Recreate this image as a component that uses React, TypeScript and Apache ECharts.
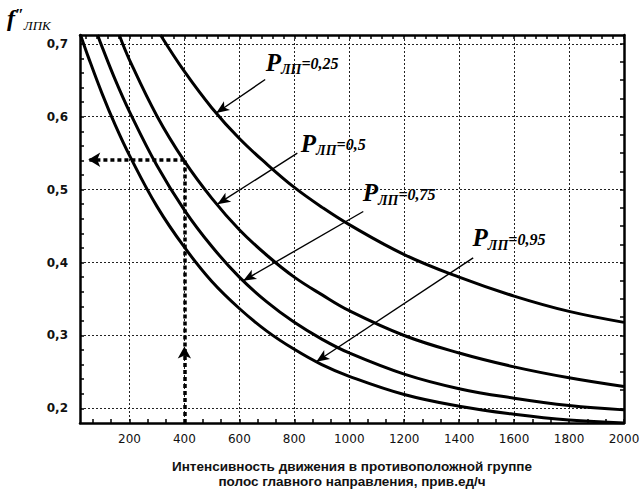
import { useEffect, useRef } from "react";
import * as echarts from "echarts";

// ---- data ----
const curve025X = [313, 400, 500, 600, 700, 800, 900, 1000, 1200, 1400, 1600, 1800, 2000];
const curve025Y = [0.712, 0.662, 0.612, 0.570, 0.535, 0.503, 0.476, 0.452, 0.411, 0.380, 0.354, 0.333, 0.318];

const curve05X = [163, 200, 300, 400, 500, 600, 700, 800, 900, 1000, 1200, 1400, 1600, 1800, 2000];
const curve05Y = [0.712, 0.678, 0.601, 0.539, 0.488, 0.445, 0.410, 0.380, 0.356, 0.334, 0.300, 0.276, 0.257, 0.242, 0.230];

const curve075X = [84, 100, 150, 200, 300, 400, 500, 600, 700, 800, 900, 1000, 1200, 1400, 1600, 1800, 2000];
const curve075Y = [0.712, 0.696, 0.649, 0.607, 0.533, 0.472, 0.422, 0.380, 0.346, 0.318, 0.295, 0.276, 0.247, 0.227, 0.214, 0.204, 0.198];

const curve095X = [22, 50, 100, 150, 200, 300, 400, 500, 600, 700, 800, 900, 1000, 1200, 1400, 1600, 1800, 2000];
const curve095Y = [0.712, 0.682, 0.632, 0.587, 0.547, 0.477, 0.421, 0.374, 0.337, 0.306, 0.281, 0.260, 0.244, 0.219, 0.203, 0.192, 0.184, 0.180];

const xLabelValues = [200, 400, 600, 800, 1000, 1200, 1400, 1600, 1800, 2000];
const xGridValues = [200, 400, 600, 800, 1000, 1200, 1400, 1600, 1800];
const yLabelValues = [0.2, 0.3, 0.4, 0.5, 0.6, 0.7];
const yGridValues = [0.2, 0.3, 0.4, 0.5, 0.6, 0.7];

// worked example: 400 -> 0,54
const exampleX = 400;
const exampleY = 0.541;
const exampleArrowY = 0.285;

const curveNames = ["0,25", "0,5", "0,75", "0,95"];
// label anchor (data coords) and arrow start -> arrow tip
const labelAnchorX = [694, 822, 1047, 1447];
const labelAnchorY = [0.672, 0.561, 0.493, 0.431];
const arrowFromX = [694, 811, 1051, 1451];
const arrowFromY = [0.651, 0.55, 0.47, 0.4065];
const arrowToX = [516, 520, 614, 880];
const arrowToY = [0.605, 0.48, 0.375, 0.264];

const X_MIN = 20;
const X_MAX = 2000;
const Y_MIN = 0.18;
const Y_MAX = 0.712;

function steps(from: number, to: number, step: number): number[] {
  const out: number[] = [];
  const n = Math.round((to - from) / step);
  for (let i = 0; i <= n; i++) out.push(Math.round((from + i * step) * 10000) / 10000);
  return out;
}
const xBottomMinor = steps(200 / 3, 2000, 200 / 3);
const xTopMinor = steps(40, 2000, 40);
const yLeftMinor = steps(0.2, 0.7, 0.02);
const yRightMinor = steps(0.2, 0.7, 0.025);

const SERIF = "'Liberation Serif', 'DejaVu Serif', serif";
const SANS = "'Liberation Sans', Arial, sans-serif";

const zip = (xs: number[], ys: number[]) => xs.map((x, i) => [x, ys[i]]);

const curveStyle = { color: "#000", width: 3 };
const dashStyle = { color: "#000", width: 3.5, type: [4, 3] as any };
const arrowLineStyle = { color: "#000", width: 1.4, type: "solid" as any };

const richLabel = {
  p: { fontFamily: SERIF, fontStyle: "italic", fontWeight: "bold", fontSize: 25, color: "#000", verticalAlign: "bottom", lineHeight: 25, padding: [0, 0, 2, 0] },
  s: { fontFamily: SERIF, fontStyle: "italic", fontWeight: "bold", fontSize: 14, color: "#000", verticalAlign: "bottom", lineHeight: 14 },
  v: { fontFamily: SERIF, fontStyle: "italic", fontWeight: "bold", fontSize: 16, color: "#000", verticalAlign: "bottom", lineHeight: 16, padding: [0, 0, 5, 0] },
};

function buildOption(): any {
  const arrowData: any[] = curveNames.map((_, i) => [
    { coord: [arrowFromX[i], arrowFromY[i]], symbol: "none", lineStyle: arrowLineStyle },
    { coord: [arrowToX[i], arrowToY[i]], symbol: "arrow", symbolSize: [8, 13], lineStyle: arrowLineStyle },
  ]);
  const helperData: any[] = [
    [
      { coord: [exampleX, Y_MIN], symbol: "none", lineStyle: dashStyle },
      { coord: [exampleX, exampleArrowY], symbol: "arrow", symbolSize: [10, 12], lineStyle: dashStyle },
    ],
    [
      { coord: [exampleX, exampleArrowY], symbol: "none", lineStyle: dashStyle },
      { coord: [exampleX, exampleY], symbol: "none", lineStyle: dashStyle },
    ],
    [
      { coord: [exampleX, exampleY], symbol: "none", lineStyle: dashStyle },
      { coord: [50, exampleY], symbol: "arrow", symbolSize: [11, 12], lineStyle: dashStyle },
    ],
  ];

  const gridLine = { color: "#222", width: 1, type: [2, 2] as any };
  const axisLine = { show: true, onZero: false, lineStyle: { color: "#000", width: 2.5 } };
  const curveSeries = (name: string, xs: number[], ys: number[]) => ({
    type: "line", name, data: zip(xs, ys), xAxisIndex: 0, yAxisIndex: 0,
    smooth: 0.4, symbol: "none", lineStyle: curveStyle, silent: true, z: 3,
  });

  return {
    animation: false,
    backgroundColor: "#fff",
    grid: { left: 80, right: 20, top: 35, bottom: 71 },
    xAxis: [
      {
        type: "value", position: "bottom", min: X_MIN, max: X_MAX,
        axisLine,
        axisTick: { show: true, inside: true, length: 4, customValues: xBottomMinor, lineStyle: { color: "#000", width: 1.5 } },
        axisLabel: {
          customValues: xLabelValues, margin: 10, color: "#111",
          fontFamily: "'DejaVu Sans', sans-serif", fontSize: 12, formatter: (v: number) => String(v),
        },
        splitLine: { show: false },
        name: "Интенсивность движения в противоположной группе\nполос главного направления, прив.ед/ч",
        nameLocation: "middle", nameGap: 36,
        nameTextStyle: { fontFamily: SANS, fontWeight: "bold", fontSize: 13.5, lineHeight: 15, color: "#111" },
      },
      {
        type: "value", position: "bottom", min: X_MIN, max: X_MAX,
        axisLine: { show: false },
        axisTick: { show: false, customValues: xGridValues },
        axisLabel: { show: false },
        splitLine: { show: true, lineStyle: gridLine },
      },
      {
        type: "value", position: "top", min: X_MIN, max: X_MAX,
        axisLine,
        axisTick: { show: true, inside: true, length: 4, customValues: xTopMinor, lineStyle: { color: "#000", width: 1.5 } },
        axisLabel: { show: false },
        splitLine: { show: false },
      },
    ],
    yAxis: [
      {
        type: "value", position: "left", min: Y_MIN, max: Y_MAX,
        axisLine,
        axisTick: { show: true, inside: true, length: 4, customValues: yLeftMinor, lineStyle: { color: "#000", width: 1.5 } },
        axisLabel: {
          customValues: yLabelValues, margin: 12, color: "#111",
          fontFamily: "'DejaVu Sans', sans-serif", fontWeight: "bold", fontSize: 12,
          formatter: (v: number) => v.toFixed(1).replace(".", ","),
        },
        splitLine: { show: false },
      },
      {
        type: "value", position: "left", min: Y_MIN, max: Y_MAX,
        axisLine: { show: false },
        axisTick: { show: false, customValues: yGridValues },
        axisLabel: { show: false },
        splitLine: { show: true, lineStyle: gridLine },
      },
      {
        type: "value", position: "right", min: Y_MIN, max: Y_MAX,
        axisLine,
        axisTick: { show: true, inside: true, length: 4, customValues: yRightMinor, lineStyle: { color: "#000", width: 1.5 } },
        axisLabel: { show: false },
        splitLine: { show: false },
      },
    ],
    graphic: [
      {
        type: "text", left: 7, top: 6,
        style: {
          text: "{f|f}{q|″}{s|ЛПК}",
          rich: {
            f: { fontFamily: SERIF, fontStyle: "italic", fontWeight: "bold", fontSize: 24, color: "#000", verticalAlign: "bottom", lineHeight: 26, padding: [0, 0, 2, 0] },
            q: { fontFamily: SERIF, fontStyle: "italic", fontWeight: "bold", fontSize: 16, color: "#000", verticalAlign: "top", lineHeight: 16 },
            s: { fontFamily: SERIF, fontStyle: "italic", fontSize: 13, color: "#000", verticalAlign: "bottom", lineHeight: 13 },
          },
        },
      },
    ],
    series: [
      {
        ...curveSeries("P=0,25", curve025X, curve025Y),
        markLine: {
          silent: true, animation: false, label: { show: false }, emphasis: { disabled: true },
          data: [...arrowData, ...helperData],
        },
        markPoint: {
          silent: true, animation: false, symbol: "circle", symbolSize: 1, itemStyle: { color: "rgba(0,0,0,0)" },
          data: curveNames.map((n, i) => ({
            coord: [labelAnchorX[i], labelAnchorY[i]],
            label: { show: true, position: "right", distance: 0, formatter: "{p|P}{s|ЛП}{v|=" + n + "}", rich: richLabel },
          })),
        },
      },
      curveSeries("P=0,5", curve05X, curve05Y),
      curveSeries("P=0,75", curve075X, curve075Y),
      curveSeries("P=0,95", curve095X, curve095Y),
    ],
  };
}

export default function App() {
  const ref = useRef<HTMLDivElement>(null);
  useEffect(() => {
    if (!ref.current) return;
    const chart = echarts.init(ref.current, null, { renderer: "svg" });
    chart.setOption(buildOption());
    return () => chart.dispose();
  }, []);
  return (
    <div
      ref={ref}
      style={{ position: "absolute", left: 0, top: 0, width: 644, height: 494, background: "#fff" }}
    />
  );
}
